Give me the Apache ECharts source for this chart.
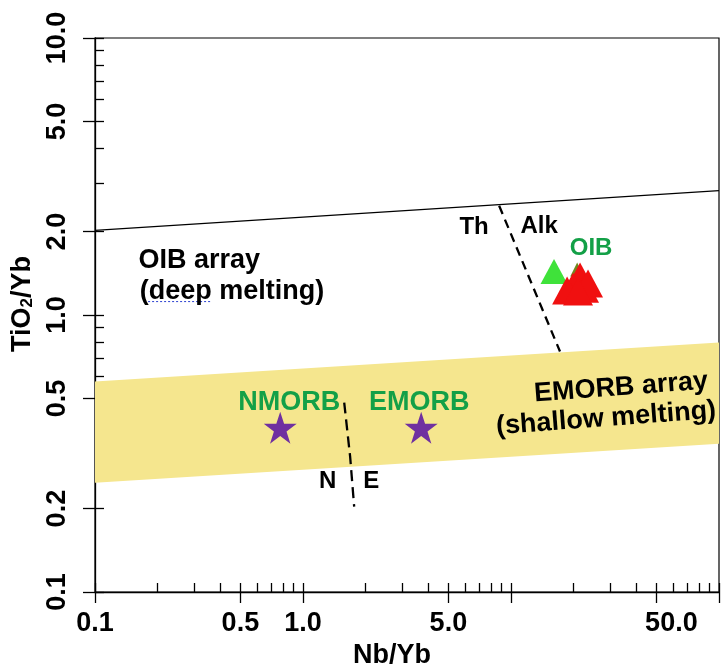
<!DOCTYPE html>
<html>
<head>
<meta charset="utf-8">
<script src="https://cdn.jsdelivr.net/npm/echarts@6/dist/echarts.min.js"></script>
<style>
  html, body { margin: 0; padding: 0; background: #ffffff; }
  #chart { width: 722px; height: 667px; }
</style>
</head>
<body>
<div id="chart"></div>
<script>
// ---- Axis ticks (Nb/Yb on x, TiO2/Yb on y, both logarithmic) ----
const xAllTicks = [0.1, 0.2, 0.3, 0.4, 0.5, 0.6, 0.7, 0.8, 0.9, 1, 2, 3, 4, 5, 6, 7, 8, 9,
                   10, 20, 30, 40, 50, 60, 70, 80, 90, 100];
const xMajorTicks = [0.1, 0.5, 1, 5, 10, 50, 100];
const xTickLabels = [0.1, 0.5, 1, 5, 50];
const yAllTicks = [0.1, 0.2, 0.3, 0.4, 0.5, 0.6, 0.7, 0.8, 0.9, 1, 2, 3, 4, 5, 6, 7, 8, 9, 10];
const yMajorTicks = [0.1, 0.2, 0.5, 1, 2, 5, 10];
const yTickLabels = [0.1, 0.2, 0.5, 1, 2, 5, 10];

// ---- Reference arrays and boundaries [Nb/Yb, TiO2/Yb] ----
const oibArrayTop = [[0.1, 2.02], [100, 2.81]];
const emorbBandUpper = [[0.1, 0.575], [100, 0.795]];
const emorbBandLower = [[0.1, 0.248], [100, 0.343]];
const thAlkDivide = [[8.77, 2.48], [17.2, 0.738]];
const nEDivide = [[1.578, 0.483], [1.685, 0.308], [1.762, 0.2034]];
const spellMark = [[0.180, 1.118], [0.358, 1.118]];

// ---- Samples and reference compositions ----
const morbReference = [[0.777, 0.392], [3.70, 0.392]];
const oibGreen = [[16.1, 1.435]];
const oibOlive = [[20.8, 1.459]];
const oibRed = [[21.48, 1.376], [19.88, 1.266], [22.45, 1.245], [18.61, 1.225],
                [23.46, 1.298], [21.0, 1.215]];

// ---- Field annotations ----
const fieldNames = ['Th', 'Alk', 'OIB', 'OIB array', '(deep melting)', 'NMORB', 'EMORB',
                    'N', 'E', 'EMORB array', '(shallow melting)'];
const fieldAnchors = [[6.648, 2.068], [13.65, 2.085], [24.26, 1.737], [0.3171, 1.572],
                      [0.4560, 1.215], [0.8585, 0.4829], [3.618, 0.4829], [1.314, 0.2514],
                      [2.127, 0.2514], [33.81, 0.5468], [28.64, 0.4227]];

const FONT = '"Liberation Sans", Arial, Helvetica, sans-serif';
const INK = '#000000';
const LABEL_GREEN = '#13a047';

const starPath = 'path://M50,0 L61.2,34.5 L97.6,34.5 L68.2,55.9 L79.4,90.5 L50,69.1 L20.6,90.5 L31.8,55.9 L2.4,34.5 L38.8,34.5 Z';

const labelStyleFor = (name) => {
  const green = ['OIB', 'NMORB', 'EMORB'].includes(name);
  const tilted = name === 'EMORB array' || name === '(shallow melting)';
  const small = ['OIB', 'Th', 'Alk', 'N', 'E'].includes(name);
  return {
    show: true,
    position: 'inside',
    formatter: name,
    fontFamily: FONT,
    fontWeight: 'bold',
    fontSize: small ? 24 : 27,
    color: green ? LABEL_GREEN : INK,
    opacity: 1,
    rotate: tilted ? 4.3 : 0
  };
};

// tick text: one decimal; the last label sits a little right of its tick
const fmtX = (v) => {
  const s = Number(v).toFixed(1);
  return Math.abs(v - 50) < 1e-6 ? '{r|' + s + '}' : s;
};
const fmtY = (v) => Number(v).toFixed(1);

function logAxis(dim, opts) {
  return Object.assign({
    type: 'log',
    logBase: 10,
    min: 0.1,
    max: dim === 'x' ? 100 : 10,
    splitLine: { show: false },
    axisLine: { show: true, onZero: false, lineStyle: { color: INK, width: 1.3 } }
  }, opts);
}

const chart = echarts.init(document.getElementById('chart'), null, { renderer: 'canvas' });

const tickFont = { fontFamily: FONT, fontWeight: 'bold', fontSize: 27, color: INK };

const option = {
  animation: false,
  backgroundColor: '#ffffff',
  grid: {
    left: 95, right: 3, top: 38, bottom: 75,
    outerBoundsMode: 'none',
    containLabel: false,
    show: true, borderColor: INK, borderWidth: 1.2, backgroundColor: 'transparent'
  },
  xAxis: [
    logAxis('x', {
      position: 'bottom',
      name: 'Nb/Yb',
      nameLocation: 'middle',
      nameGap: 45,
      nameTextStyle: { fontFamily: FONT, fontWeight: 'bold', fontSize: 27, color: INK, padding: [0, 30, 0, 0] },
      axisTick: { show: true, inside: true, length: 9, customValues: xAllTicks, lineStyle: { color: INK, width: 1.3 } },
      axisLabel: Object.assign({
        show: true, customValues: xTickLabels, margin: 18, formatter: fmtX,
        rich: { r: Object.assign({ padding: [0, 0, 0, 30] }, tickFont) }
      }, tickFont)
    }),
    logAxis('x', {
      position: 'bottom',
      axisLine: { show: false },
      axisTick: { show: true, inside: false, length: 11, customValues: xMajorTicks, lineStyle: { color: INK, width: 1.3 } },
      axisLabel: { show: false }
    })
  ],
  yAxis: [
    logAxis('y', {
      position: 'left',
      name: 'TiO{s|2}/Yb',
      nameLocation: 'middle',
      nameGap: 56,
      nameRotate: 90,
      nameTextStyle: {
        fontFamily: FONT, fontWeight: 'bold', fontSize: 27, color: INK,
        padding: [0, 0, 0, 22],
        rich: { s: { fontFamily: FONT, fontWeight: 'bold', fontSize: 17, color: INK, verticalAlign: 'bottom' } }
      },
      axisTick: { show: true, inside: true, length: 9, customValues: yAllTicks, lineStyle: { color: INK, width: 1.3 } },
      axisLabel: Object.assign({
        show: true, customValues: yTickLabels, margin: 24, rotate: 90, formatter: fmtY
      }, tickFont)
    }),
    logAxis('y', {
      position: 'left',
      axisLine: { show: false },
      axisTick: { show: true, inside: false, length: 12, customValues: yMajorTicks, lineStyle: { color: INK, width: 1.3 } },
      axisLabel: { show: false }
    })
  ],
  series: [
    {
      // shallow-melting EMORB band
      type: 'custom',
      name: 'EMORB array',
      z: 1,
      silent: true,
      data: [[1, 1]],
      renderItem: (params, api) => {
        const pts = emorbBandUpper.map(p => api.coord(p))
          .concat(emorbBandLower.slice().reverse().map(p => api.coord(p)));
        return { type: 'polygon', shape: { points: pts }, style: { fill: '#f5e68e', stroke: null } };
      }
    },
    {
      type: 'line', name: 'OIB array limit', z: 3, data: oibArrayTop, symbol: 'none',
      lineStyle: { color: INK, width: 1.2 }
    },
    {
      type: 'line', name: 'Th-Alk', z: 3, data: thAlkDivide, symbol: 'none',
      lineStyle: { color: INK, width: 2.3, type: [9, 6] }
    },
    {
      type: 'line', name: 'N-E', z: 3, data: nEDivide, symbol: 'none',
      lineStyle: { color: INK, width: 2.3, type: [11, 6] }
    },
    {
      type: 'line', name: 'mark', z: 3, data: spellMark, symbol: 'none',
      lineStyle: { color: '#2a3fd0', width: 1, type: [2, 2] }
    },
    {
      type: 'scatter', name: 'MORB', z: 5, data: morbReference,
      symbol: starPath, symbolSize: [33, 32],
      itemStyle: { color: '#7030a0', opacity: 1 }
    },
    {
      type: 'scatter', name: 'OIB olive', z: 5, data: oibOlive,
      symbol: 'triangle', symbolSize: [14, 14],
      itemStyle: { color: '#6f8a1f', opacity: 1 }
    },
    {
      type: 'scatter', name: 'OIB green', z: 6, data: oibGreen,
      symbol: 'triangle', symbolSize: [27, 25],
      itemStyle: { color: '#3fe23a', opacity: 1 }
    },
    {
      type: 'scatter', name: 'OIB red', z: 7, data: oibRed,
      symbol: 'triangle', symbolSize: [30, 28],
      itemStyle: { color: '#f01010', opacity: 1 }
    },
    {
      type: 'scatter', name: 'fields', z: 10, silent: true,
      symbolSize: 0,
      itemStyle: { opacity: 1 },
      data: fieldAnchors.map((p, i) => ({ value: p, label: labelStyleFor(fieldNames[i]) }))
    }
  ]
};

chart.setOption(option);
</script>
</body>
</html>
